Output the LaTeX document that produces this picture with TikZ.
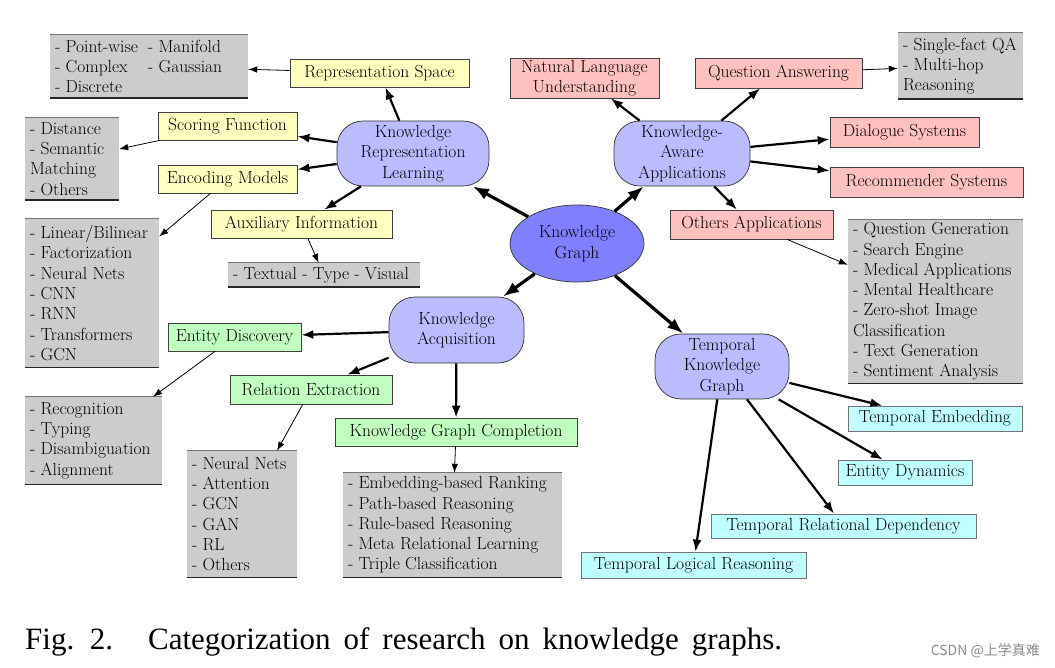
\documentclass[tikz,border=0pt]{standalone}
\usepackage{fontspec}
\newfontfamily\capfont{Liberation Serif}
\newfontfamily\cjkfont{Noto Sans CJK SC}
\usetikzlibrary{shapes.geometric,arrows.meta}
\definecolor{ylw}{HTML}{FFFFC0}
\definecolor{rd}{HTML}{FFC0C0}
\definecolor{grn}{HTML}{C0FFC0}
\definecolor{cyn}{HTML}{C0FFFF}
\definecolor{gry}{HTML}{CCCCCC}
\definecolor{lav}{HTML}{BBBBFF}
\definecolor{kgc}{HTML}{8080FF}
\newcommand\dfont{\fontsize{17.5}{20.3}\selectfont}
\newcommand\grbox[5]{%
  \node[gbg, minimum width=#3pt, minimum height=#4pt] (#1) at #2 {};
  \node[gtxt, anchor=west] (#1t) at ([xshift=5pt]#1.west) {#5};
  \draw[gtop] (#1.north west) -- (#1.north east);
  \draw[gbot] (#1.south west) -- (#1.south east);}
\begin{document}
\begin{tikzpicture}[x=1pt,y=-1pt,
  every node/.style={font=\dfont},
  sz/.style 2 args={minimum width=#1pt, minimum height=#2pt},
  box/.style={draw=black!75, line width=0.7pt, inner sep=0pt, align=center},
  ybox/.style={box, fill=ylw},
  rbox/.style={box, fill=rd},
  gnbox/.style={box, fill=grn},
  cbox/.style={box, fill=cyn, draw=black!55},
  gbg/.style={fill=gry, inner sep=0pt},
  gtxt/.style={inner sep=0pt, align=left},
  rnd/.style={rectangle, rounded corners=26pt, draw=black!80, fill=lav, line width=0.7pt, align=center, inner sep=0pt},
  gtop/.style={draw=black!55, line width=1.1pt},
  gbot/.style={draw=black!85, line width=1.4pt},
  bigarrow/.style={-{Latex[length=16pt,width=12pt]}, line width=3.2pt},
  medarrow/.style={-{Latex[length=12pt,width=9pt]}, line width=2.2pt},
  thinarrow/.style={-{Latex[length=9pt,width=6.5pt]}, line width=0.8pt}
]
\useasboundingbox[fill=white] (0,0) rectangle (1055,668);

% central
\node[ellipse, draw=black!80, fill=kgc, line width=0.7pt, sz={134}{77}, inner sep=0pt, align=center] (kg) at (577,243.5) {Knowledge\\Graph};

% rounded categories
\node[rnd, sz={152}{65}] (krl) at (413,153.5) {Knowledge\\Representation\\Learning};
\node[rnd, sz={136}{65}] (kaa) at (682,153.5) {Knowledge-\\Aware\\Applications};
\node[rnd, sz={135}{66}] (ka) at (456.5,330) {Knowledge\\Acquisition};
\node[rnd, sz={134}{65}] (tkg) at (722,366.5) {Temporal\\Knowledge\\Graph};

% yellow
\node[ybox, sz={179}{28}] (rs) at (379.5,73) {Representation Space};
\node[ybox, sz={139}{28}] (sf) at (227.5,126) {Scoring Function};
\node[ybox, sz={139}{28}] (em) at (227.5,179) {Encoding Models};
\node[ybox, sz={181}{28}] (ai) at (301.5,224) {Auxiliary Information};

% red
\node[rbox, sz={149}{40}] (nlu) at (584.5,78) {Natural Language\\Understanding};
\node[rbox, sz={167}{30}] (qa) at (778.5,73) {Question Answering};
\node[rbox, sz={149}{30}] (ds) at (904.5,132) {Dialogue Systems};
\node[rbox, sz={193}{30}] (rec) at (926.5,182) {Recommender Systems};
\node[rbox, sz={163}{29}] (oa) at (751.5,224.5) {Others Applications};

% green
\node[gnbox, sz={133}{28}] (ed) at (234.5,337) {Entity Discovery};
\node[gnbox, sz={162}{29}] (re) at (311,389.5) {Relation Extraction};
\node[gnbox, sz={242}{28}] (kgcomp) at (456,432) {Knowledge Graph Completion};

% cyan
\node[cbox, sz={174}{25}] (te) at (935,418.5) {Temporal Embedding};
\node[cbox, sz={134}{25}] (edy) at (905,472.5) {Entity Dynamics};
\node[cbox, sz={265}{24}] (trd) at (843.5,526) {Temporal Relational Dependency};
\node[cbox, sz={225}{26}] (tlr) at (693.5,565) {Temporal Logical Reasoning};

% gray boxes
\grbox{g1}{(149,66.5)}{198}{63}{\makebox[93pt][l]{- Point-wise}- Manifold\\\makebox[93pt][l]{- Complex}- Gaussian\\- Discrete}
\grbox{g2}{(72,159)}{94}{82}{- Distance\\- Semantic\\Matching\\- Others}
\grbox{g3}{(92,293)}{134}{148}{- Linear/Bilinear\\- Factorization\\- Neural Nets\\- CNN\\- RNN\\- Transformers\\- GCN}
\grbox{g4}{(324,275)}{192}{24}{- Textual - Type - Visual}
\grbox{g5}{(960.5,66)}{125}{66}{- Single-fact QA\\- Multi-hop\\Reasoning}
\grbox{g6}{(935.5,301.5)}{175}{163}{- Question Generation\\- Search Engine\\- Medical Applications\\- Mental Healthcare\\- Zero-shot Image\\Classification\\- Text Generation\\- Sentiment Analysis}
\grbox{g7}{(93.5,440.5)}{137}{87}{- Recognition\\- Typing\\- Disambiguation\\- Alignment}
\grbox{g8}{(242,514)}{110}{126}{- Neural Nets\\- Attention\\- GCN\\- GAN\\- RL\\- Others}
\grbox{g9}{(452.5,525)}{219}{104}{- Embedding-based Ranking\\- Path-based Reasoning\\- Rule-based Reasoning\\- Meta Relational Learning\\- Triple Classification}

% main arrows
\draw[bigarrow] (kg) -- (krl);
\draw[bigarrow] (kg) -- (kaa);
\draw[bigarrow] (kg) -- (ka);
\draw[bigarrow] (kg) -- (tkg);

% KRL
\draw[medarrow] (krl) -- (rs);
\draw[medarrow] (krl) -- (sf);
\draw[medarrow] (krl) -- (em);
\draw[medarrow] (krl) -- (ai);
\draw[thinarrow] (rs) -- (g1);
\draw[thinarrow] (sf) -- (g2);
\draw[thinarrow] (em) -- (g3);
\draw[thinarrow] (ai) -- (g4);

% KAA
\draw[medarrow] (kaa) -- (nlu);
\draw[medarrow] (kaa) -- (qa);
\draw[medarrow] (kaa) -- (ds);
\draw[medarrow] (kaa) -- (rec);
\draw[medarrow] (kaa) -- (oa);
\draw[thinarrow] (qa) -- (g5);
\draw[thinarrow] (oa) -- (g6);

% KA
\draw[medarrow] (ka) -- (ed);
\draw[medarrow] (ka) -- (re);
\draw[medarrow] (ka) -- (kgcomp);
\draw[thinarrow] (ed) -- (g7);
\draw[thinarrow] (re) -- (g8);
\draw[thinarrow] (kgcomp) -- (g9);

% TKG
\draw[medarrow] (tkg) -- (te);
\draw[medarrow] (tkg) -- (edy);
\draw[medarrow] (tkg) -- (trd);
\draw[medarrow] (tkg) -- (tlr);

% caption
\node[anchor=base west, inner sep=0pt, font=\capfont\fontsize{31}{36}\selectfont] (cap) at (25,649)
  {\spaceskip=13pt Fig. 2.\hspace{35pt}Categorization of research on knowledge graphs.};
\node[anchor=base east, inner sep=0pt, text=black!45, font=\cjkfont\fontsize{14}{16}\selectfont] (wm) at (1040,655)
  {CSDN @上学真难};
\end{tikzpicture}
\end{document}
